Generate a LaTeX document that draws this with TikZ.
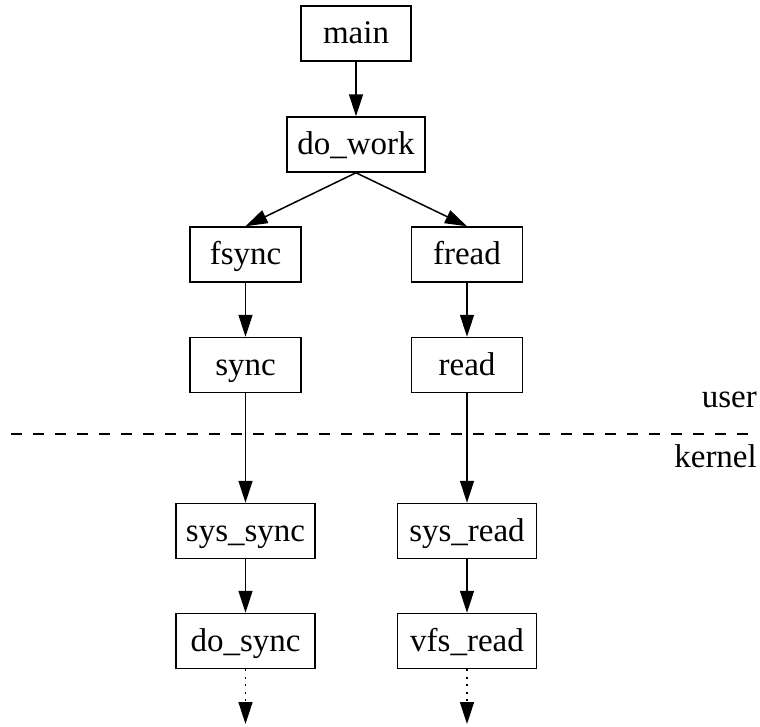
\documentclass[tikz,border=0pt]{standalone}
\usepackage{fontspec}
\setmainfont{Liberation Serif}
\usetikzlibrary{arrows.meta}

\begin{document}
\begin{tikzpicture}[x=1pt,y=-1pt,
  fn/.style={draw, line width=1.5pt, rectangle, inner sep=0pt,
    minimum height=55pt, text height=20pt, text depth=0pt,
    font=\fontsize{33}{36}\selectfont},
  callarrow/.style={line width=1.5pt, -{Triangle[length=22pt,width=14pt]}},
  moreedge/.style={callarrow, dash pattern=on 2pt off 5.5pt},
  layer/.style={font=\fontsize{33}{36}\selectfont, anchor=base east, inner sep=0pt}]

  \useasboundingbox (0,0) rectangle (760,726);

  % call graph, user space
  \node[fn, minimum width=110pt] (main)   at (356,33.5)   {main};
  \node[fn, minimum width=138pt] (dowork) at (356,144.5)  {do\_work};
  \node[fn, minimum width=111pt] (fsync)  at (245.5,254.5) {fsync};
  \node[fn, minimum width=111pt] (fread)  at (467,254.5)  {fread};
  \node[fn, minimum width=111pt] (sync)   at (245.5,365)  {sync};
  \node[fn, minimum width=111pt] (read)   at (467,365)    {read};

  % kernel space
  \node[fn, minimum width=139pt] (syssync) at (245.5,531) {sys\_sync};
  \node[fn, minimum width=139pt] (sysread) at (467,531)   {sys\_read};
  \node[fn, minimum width=139pt] (dosync)  at (245.5,641) {do\_sync};
  \node[fn, minimum width=139pt] (vfsread) at (467,641)   {vfs\_read};

  \coordinate (syncmore) at (245.5,724);
  \coordinate (readmore) at (467,724);

  % user/kernel boundary
  \coordinate (bl) at (11,434);
  \coordinate (br) at (752,434);
  \draw[line width=1.5pt, dash pattern=on 11pt off 11pt] (bl) -- (br);
  \node[layer] (user)   at (757,407) {user};
  \node[layer] (kernel) at (757,467) {kernel};

  % calls
  \draw[callarrow] (main.south)    -- (dowork.north);
  \draw[callarrow] (dowork.south)  -- (fsync.north);
  \draw[callarrow] (dowork.south)  -- (fread.north);
  \draw[callarrow] (fsync.south)   -- (sync.north);
  \draw[callarrow] (fread.south)   -- (read.north);
  \draw[callarrow] (sync.south)    -- (syssync.north);
  \draw[callarrow] (read.south)    -- (sysread.north);
  \draw[callarrow] (syssync.south) -- (dosync.north);
  \draw[callarrow] (sysread.south) -- (vfsread.north);
  \draw[moreedge]  (dosync.south)  -- (syncmore);
  \draw[moreedge]  (vfsread.south) -- (readmore);
\end{tikzpicture}
\end{document}
